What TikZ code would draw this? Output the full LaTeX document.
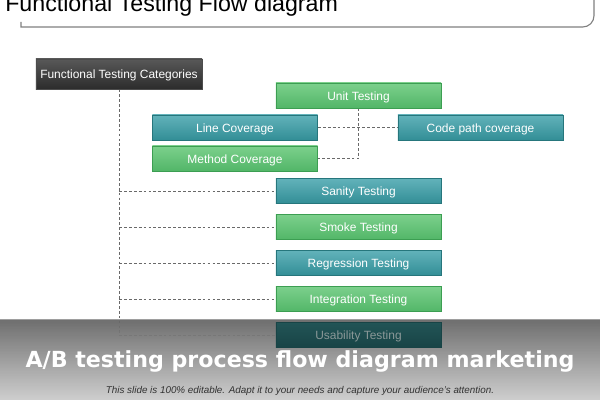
\documentclass[tikz,border=0pt]{standalone}
\usepackage{fontspec}
\setmainfont{Liberation Sans}
\newfontfamily\bannerfont{DejaVu Sans}
\usetikzlibrary{positioning}
\usepackage{xcolor}

\definecolor{greentop}{RGB}{124,208,140}
\definecolor{greenbot}{RGB}{82,182,104}
\definecolor{greenline}{RGB}{60,158,82}
\definecolor{tealtop}{RGB}{98,178,186}
\definecolor{tealbot}{RGB}{50,142,150}
\definecolor{tealline}{RGB}{38,118,124}
\definecolor{darktop}{RGB}{88,88,88}
\definecolor{darkbot}{RGB}{44,44,44}
\definecolor{linkgray}{RGB}{105,105,105}
\definecolor{shade}{RGB}{40,40,40}
\definecolor{notegray}{RGB}{50,50,50}
\definecolor{usetop}{RGB}{34,84,86}
\definecolor{usebot}{RGB}{24,68,70}
\definecolor{usetext}{RGB}{138,152,152}

\pgfdeclarelayer{back}
\pgfsetlayers{back,main}

\begin{document}
\begin{tikzpicture}[x=0.025cm, y=-0.025cm, node distance=0.9cm,
  boxfont/.style={font=\fontsize{8.5}{10}\selectfont, text height=0.72em, text depth=0.02em},
  testbox/.style={boxfont, text=white, line width=0.6pt, minimum width=4.125cm,
    minimum height=0.625cm, inner sep=0pt},
  greenbox/.style={testbox, draw=greenline, top color=greentop, bottom color=greenbot},
  tealbox/.style={testbox, draw=tealline, top color=tealtop, bottom color=tealbot},
  link/.style={draw=linkgray, dash pattern=on 2pt off 1.5pt, line width=0.5pt}]
  \useasboundingbox (0,0) rectangle (600,400);

  % title with its underline
  \node (title) [anchor=base west, inner sep=0pt, font=\fontsize{16.5}{18}\selectfont] at (5,12) {Functional Testing Flow diagram};
  \coordinate (tl) at (21,22);
  \coordinate (tb) at (594,27);
  \coordinate (tr) at (594,-2);
  \draw[draw=gray, line width=0.8pt] (tl) -- (21,27) [rounded corners=8pt] -- (tb) -- (tr);

  % categories
  \node (cat) [boxfont, text=white, draw=black!70, top color=darktop, bottom color=darkbot,
    minimum width=4.15cm, minimum height=0.75cm, inner sep=0pt] at (119,74) {Functional Testing Categories};

  \node (unit) [greenbox] at (358.5,95.5) {Unit Testing};
  \node (line) [tealbox] at (235,127.5) {Line Coverage};
  \node (codepath) [tealbox] at (480.5,127.5) {Code path coverage};
  \node (method) [greenbox] at (235,158.5) {Method Coverage};

  \node (sanity) [tealbox] at (358.5,191) {Sanity Testing};
  \node (smoke) [greenbox, below of=sanity] {Smoke Testing};
  \node (regression) [tealbox, below of=smoke] {Regression Testing};
  \node (integration) [greenbox, below of=regression] {Integration Testing};
  \node (usability) [testbox, draw=usebot, top color=usetop, bottom color=usebot,
    text=usetext, below of=integration] {Usability Testing};

  \begin{pgfonlayer}{back}
    \draw[link] (cat.south) |- (usability.west);
    \draw[link] (cat.south |- sanity) -- (sanity.west);
    \draw[link] (cat.south |- smoke) -- (smoke.west);
    \draw[link] (cat.south |- regression) -- (regression.west);
    \draw[link] (cat.south |- integration) -- (integration.west);
    \draw[link] (unit.south) |- (method.east);
    \draw[link] (line.east) -- (codepath.west);
    % banner shade
    \fill[shade, opacity=0.75] (0,320) rectangle (600,400);
  \end{pgfonlayer}

  \node (banner) [text=white, font=\bannerfont\bfseries\fontsize{15.75}{18}\selectfont] at (300,361) {A/B testing process flow diagram marketing};
  \node (note) [text=notegray, font=\itshape\fontsize{7}{8}\selectfont] at (300,391) {This slide is 100\% editable. Adapt it to your needs and capture your audience's attention.};
\end{tikzpicture}
\end{document}
